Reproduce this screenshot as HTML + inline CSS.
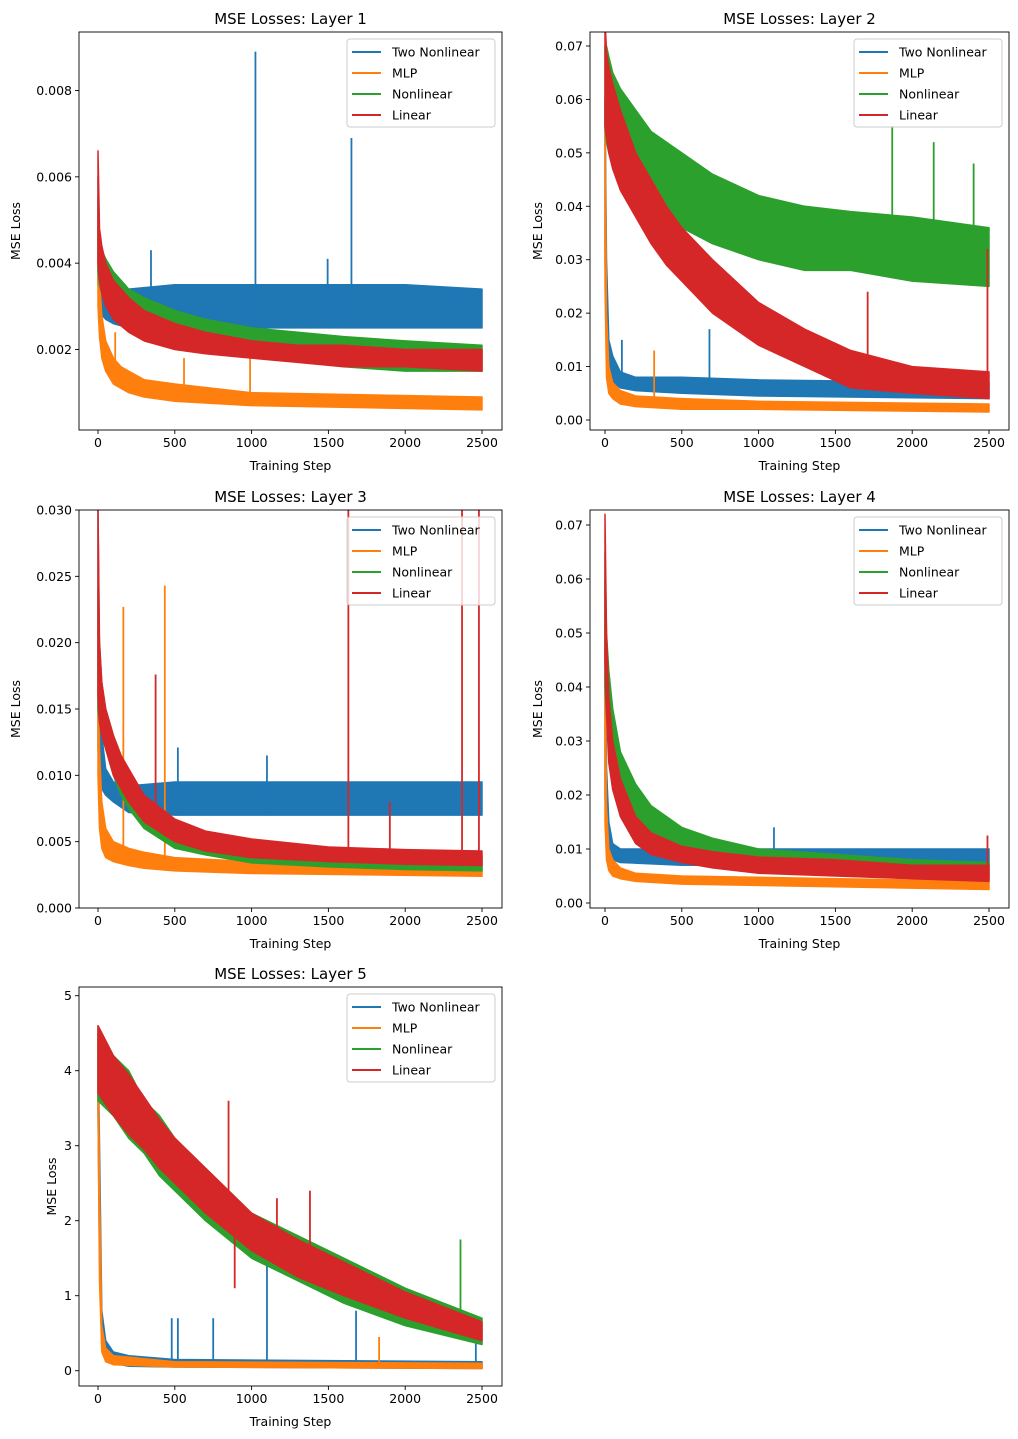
<!DOCTYPE html>
<html><head><meta charset="utf-8"><style>
html,body{margin:0;padding:0;background:#fff}
svg{display:block;font-family:"DejaVu Sans","Liberation Sans",sans-serif}
</style></head><body>
<svg id="fig" width="1018" height="1439" viewBox="0 0 1018 1439" xmlns="http://www.w3.org/2000/svg"></svg>
<script>
// ---- data: each entry [step, low, high] of the noisy band (native units) ----
const seriesNames = ["Two Nonlinear","MLP","Nonlinear","Linear"];
const xTicks = [0,500,1000,1500,2000,2500];

const L1_two = [[0,.0035,.006],[10,.003,.0045],[25,.0028,.004],[50,.0027,.0038],[100,.0026,.0036],[200,.0025,.0034],[500,.0025,.0035],[1000,.0025,.0035],[1500,.0025,.0035],[2000,.0025,.0035],[2500,.0025,.0034]];
const L1_mlp = [[0,.003,.005],[10,.0023,.0036],[25,.0018,.0028],[50,.0015,.0022],[100,.0012,.0018],[150,.0011,.0016],[200,.001,.0015],[300,.0009,.0013],[500,.0008,.0012],[1000,.0007,.001],[2500,.0006,.0009]];
const L1_non = [[0,.0038,.0055],[10,.0035,.0046],[25,.0033,.0043],[50,.0031,.0041],[100,.0029,.0038],[200,.0026,.0034],[300,.0024,.0032],[500,.0022,.0029],[700,.002,.0027],[1000,.0019,.0025],[1300,.0018,.0024],[1600,.0016,.0023],[2000,.0015,.0022],[2500,.0015,.0021]];
const L1_lin = [[0,.004,.0066],[10,.0036,.0048],[25,.0033,.0044],[50,.003,.004],[100,.0027,.0036],[200,.0024,.0032],[300,.0022,.0029],[500,.002,.0026],[700,.0019,.0024],[1000,.0018,.0022],[1300,.0017,.0021],[1600,.0016,.0021],[2000,.0016,.002],[2500,.0015,.002]];
const L1_spikes = [[0,1025,.0089],[0,1650,.0069],[0,345,.0043],[0,1495,.0041],[1,112,.0024],[1,560,.0018],[1,990,.0018]];
const L1_yTicks = [0.002,0.004,0.006,0.008];

const L2_two = [[0,.03,.06],[10,.015,.03],[25,.009,.015],[50,.007,.012],[100,.006,.009],[200,.0055,.008],[500,.005,.008],[1000,.0045,.0075],[2500,.004,.007]];
const L2_mlp = [[0,.025,.06],[10,.008,.02],[25,.005,.01],[50,.004,.007],[100,.003,.0055],[200,.0025,.0045],[500,.002,.004],[1000,.002,.0035],[2500,.0015,.003]];
const L2_non = [[0,.055,.07],[10,.052,.07],[25,.05,.068],[50,.048,.065],[100,.046,.062],[200,.042,.058],[300,.04,.054],[500,.036,.05],[700,.033,.046],[1000,.03,.042],[1300,.028,.04],[1600,.028,.039],[2000,.026,.038],[2500,.025,.036]];
const L2_lin = [[0,.055,.075],[10,.053,.069],[25,.05,.066],[50,.047,.063],[100,.043,.058],[200,.038,.05],[300,.033,.045],[400,.029,.04],[500,.026,.036],[700,.02,.03],[1000,.014,.022],[1300,.01,.017],[1600,.006,.013],[2000,.005,.01],[2500,.004,.009]];
const L2_spikes = [[0,110,.015],[0,680,.017],[1,320,.013],[2,1870,.055],[2,2140,.052],[2,2400,.048],[3,1710,.024],[3,2490,.032]];
const L2_yTicks = [0,0.01,0.02,0.03,0.04,0.05,0.06,0.07];

const L3_two = [[0,.012,.03],[10,.01,.018],[25,.009,.013],[50,.0085,.0105],[100,.008,.0095],[200,.0072,.0092],[500,.007,.0095],[2500,.007,.0095]];
const L3_mlp = [[0,.01,.017],[10,.006,.012],[25,.0045,.008],[50,.0038,.006],[100,.0035,.005],[200,.0032,.0045],[300,.003,.0042],[500,.0028,.0038],[1000,.0026,.0035],[2500,.0024,.0032]];
const L3_non = [[0,.015,.024],[10,.014,.02],[25,.013,.017],[50,.012,.015],[100,.01,.013],[150,.0085,.0115],[200,.0075,.01],[300,.006,.008],[500,.0045,.0063],[700,.004,.0054],[1000,.0034,.0048],[1500,.0031,.0043],[2000,.0029,.0041],[2500,.0028,.0039]];
const L3_lin = [[0,.016,.03],[10,.014,.02],[25,.013,.017],[50,.012,.015],[100,.01,.013],[150,.009,.0115],[200,.008,.0105],[300,.0065,.0085],[500,.005,.0067],[700,.0043,.0058],[1000,.0038,.0052],[1500,.0035,.0046],[2000,.0033,.0044],[2500,.0032,.0043]];
const L3_spikes = [[0,520,.0121],[0,1100,.0115],[1,165,.0227],[1,435,.0243],[3,375,.0176],[3,1630,.031],[3,2370,.031],[3,2480,.031],[3,1900,.008]];
const L3_yTicks = [0,0.005,0.010,0.015,0.020,0.025,0.030];

const L4_two = [[0,.02,.06],[10,.012,.025],[25,.01,.015],[50,.008,.011],[100,.0075,.01],[500,.007,.01],[2500,.007,.01]];
const L4_mlp = [[0,.015,.05],[10,.008,.018],[25,.006,.01],[50,.005,.008],[100,.0045,.0065],[200,.004,.0055],[500,.0035,.005],[2500,.0025,.004]];
const L4_non = [[0,.04,.065],[10,.035,.05],[25,.03,.043],[50,.026,.036],[100,.02,.028],[200,.015,.022],[300,.012,.018],[500,.01,.014],[700,.008,.012],[1000,.007,.01],[1500,.006,.009],[2000,.005,.008],[2500,.0045,.0075]];
const L4_lin = [[0,.045,.072],[10,.035,.05],[25,.026,.038],[50,.021,.03],[100,.016,.023],[200,.011,.016],[300,.009,.013],[500,.0075,.0105],[700,.0065,.0095],[1000,.0055,.0085],[1500,.005,.008],[2000,.0045,.007],[2500,.004,.007]];
const L4_spikes = [[0,1100,.014],[3,2490,.0125]];
const L4_yTicks = [0,0.01,0.02,0.03,0.04,0.05,0.06,0.07];

const L5_two = [[0,3.5,4.5],[10,1.5,3],[25,.3,.8],[50,.15,.4],[100,.1,.25],[200,.06,.2],[500,.05,.15],[2500,.03,.12]];
const L5_mlp = [[0,3.5,4.5],[10,1.2,2.5],[25,.25,.6],[50,.12,.3],[100,.08,.2],[500,.05,.12],[2500,.03,.1]];
const L5_non = [[0,3.6,4.6],[50,3.5,4.4],[100,3.4,4.2],[200,3.1,4],[300,2.9,3.6],[400,2.6,3.4],[500,2.4,3.1],[700,2,2.7],[1000,1.5,2.1],[1300,1.2,1.8],[1600,.9,1.5],[2000,.6,1.1],[2500,.35,.7]];
const L5_lin = [[0,3.7,4.6],[50,3.55,4.4],[100,3.4,4.2],[200,3.15,3.95],[300,2.95,3.65],[400,2.7,3.35],[500,2.5,3.1],[700,2.1,2.7],[1000,1.6,2.1],[1300,1.25,1.75],[1600,1.0,1.45],[2000,.7,1.05],[2500,.4,.65]];
const L5_spikes = [[0,1100,1.4],[0,480,.7],[0,520,.7],[0,750,.7],[0,1680,.8],[0,2460,.5],[1,1830,.45],[2,2360,1.75],[3,850,3.6],[3,890,1.1],[3,1165,2.3],[3,1380,2.4]];
const L5_yTicks = [0,1,2,3,4,5];

// ---- layout (pixels) ----
const colors = ["#1f77b4","#ff7f0e","#2ca02c","#d62728"];
const panels = [
 {title:"MSE Losses: Layer 1",L:79,R:502,T:32,B:430,x0:98,x2500:482,yA:.002,pA:349.5,yB:.008,pB:90.5,series:[L1_two,L1_mlp,L1_non,L1_lin],spikes:L1_spikes,ticks:L1_yTicks,dec:3,ylab:11},
 {title:"MSE Losses: Layer 2",L:590,R:1009,T:32,B:430,x0:605,x2500:989,yA:0,pA:420,yB:.07,pB:46,series:[L2_two,L2_mlp,L2_non,L2_lin],spikes:L2_spikes,ticks:L2_yTicks,dec:2,ylab:533},
 {title:"MSE Losses: Layer 3",L:79,R:502,T:510,B:908,x0:98,x2500:482,yA:0,pA:908,yB:.03,pB:510,series:[L3_two,L3_mlp,L3_non,L3_lin],spikes:L3_spikes,ticks:L3_yTicks,dec:3,ylab:11},
 {title:"MSE Losses: Layer 4",L:590,R:1009,T:510,B:908,x0:605,x2500:989,yA:0,pA:903,yB:.07,pB:525,series:[L4_two,L4_mlp,L4_non,L4_lin],spikes:L4_spikes,ticks:L4_yTicks,dec:2,ylab:533},
 {title:"MSE Losses: Layer 5",L:79,R:502,T:987,B:1386,x0:98,x2500:482,yA:0,pA:1370.7,yB:5,pB:995.7,series:[L5_two,L5_mlp,L5_non,L5_lin],spikes:L5_spikes,ticks:L5_yTicks,dec:0,ylab:47}
];
const NS="http://www.w3.org/2000/svg";
const svg=document.getElementById('fig');
function mk(tag,attrs,parent,text){const e=document.createElementNS(NS,tag);for(const k in attrs)e.setAttribute(k,attrs[k]);if(text!==undefined)e.textContent=text;(parent||svg).appendChild(e);return e;}

panels.forEach((p,pi)=>{
  const g=mk('g',{});
  
  
  const xs=v=>p.x0+(v/2500)*(p.x2500-p.x0);
  const ys=v=>p.pA+(v-p.yA)/(p.yB-p.yA)*(p.pB-p.pA);
  const cid='clip'+pi;
  const cp=mk('clipPath',{id:cid},g);
  mk('rect',{x:p.L,y:p.T,width:p.R-p.L,height:p.B-p.T},cp);
  const plot=mk('g',{'clip-path':'url(#'+cid+')'},g);
  p.series.forEach((s,si)=>{
    let d='M'+s.map(r=>xs(r[0]).toFixed(1)+','+ys(r[2]).toFixed(1)).join('L');
    d+='L'+s.slice().reverse().map(r=>xs(r[0]).toFixed(1)+','+ys(r[1]).toFixed(1)).join('L')+'Z';
    const band=mk('path',{d:d,fill:colors[si],stroke:colors[si],'stroke-width':1.5,'stroke-linejoin':'round'},plot);
    
    
    p.spikes.filter(k=>k[0]===si).forEach(k=>{
      let base=s[0][2];
      for(let i=0;i<s.length-1;i++){if(k[1]>=s[i][0]&&k[1]<=s[i+1][0]){const t=(k[1]-s[i][0])/(s[i+1][0]-s[i][0]);base=s[i][1]+t*(s[i+1][1]-s[i][1]);}}
      if(k[1]>s[s.length-1][0])base=s[s.length-1][1];
      const sp=mk('line',{x1:xs(k[1]),x2:xs(k[1]),y1:ys(base),y2:ys(k[2]),stroke:colors[si],'stroke-width':1.8},plot);
      
      
    });
  });
  mk('rect',{x:p.L,y:p.T,width:p.R-p.L,height:p.B-p.T,fill:'none',stroke:'#000','stroke-width':0.9},g);
  xTicks.forEach(t=>{
    const x=xs(t);
    mk('line',{x1:x,x2:x,y1:p.B,y2:p.B+4,stroke:'#000','stroke-width':0.9},g);
    const tl=mk('text',{x:x,y:p.B+17,'text-anchor':'middle','font-size':12.5},g,String(t));
    
    
  });
  p.ticks.forEach(t=>{
    const y=ys(t);
    mk('line',{x1:p.L-4,x2:p.L,y1:y,y2:y,stroke:'#000','stroke-width':0.9},g);
    const tl=mk('text',{x:p.L-7,y:y+4.5,'text-anchor':'end','font-size':12.5},g,t.toFixed(p.dec));
    
    
  });
  const xt=mk('text',{x:(p.L+p.R)/2,y:p.B+40,'text-anchor':'middle','font-size':12.5},g,'Training Step');
  
  
  const cy=(p.T+p.B)/2;
  const yt=mk('text',{x:p.ylab+9,y:cy,'text-anchor':'middle','font-size':12.5,transform:'rotate(-90 '+(p.ylab+9)+' '+cy+')'},g,'MSE Loss');
  
  
  const ti=mk('text',{x:(p.L+p.R)/2,y:p.T-8,'text-anchor':'middle','font-size':15},g,p.title);
  
  
  // legend
  const lg=mk('g',{},g);
  
  
  const lx=p.R-155, ly=p.T+7;
  mk('rect',{x:lx,y:ly,width:148,height:88,rx:3,fill:'#fff','fill-opacity':0.8,stroke:'#ccc','stroke-width':1},lg);
  seriesNames.forEach((n,i)=>{
    const ey=ly+13+i*21;
    const e=mk('g',{},lg);
    
    
    mk('line',{x1:lx+5,x2:lx+34,y1:ey,y2:ey,stroke:colors[i],'stroke-width':2},e);
    mk('text',{x:lx+45,y:ey+4.5,'font-size':12.5},e,n);
  });
});
</script>
</body></html>
